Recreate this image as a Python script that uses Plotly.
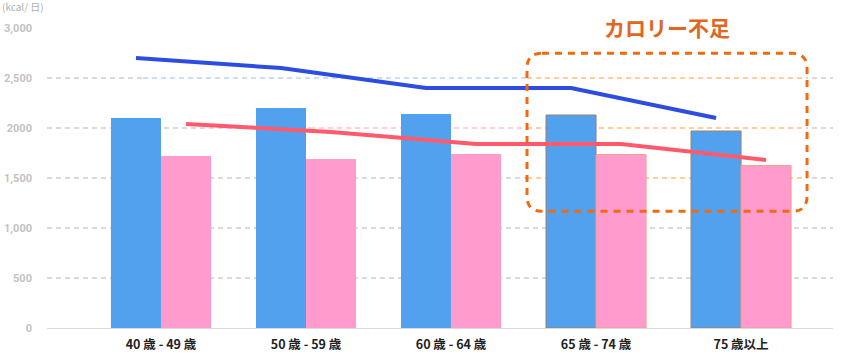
import plotly.graph_objects as go

categories = ["40 歳 - 49 歳", "50 歳 - 59 歳", "60 歳 - 64 歳", "65 歳 - 74 歳", "75 歳以上"]
male_intake = [2100, 2200, 2140, 2130, 1970]
female_intake = [1720, 1690, 1740, 1735, 1625]
male_required = [2700, 2600, 2400, 2400, 2100]
female_required = [2040, 1960, 1840, 1840, 1680]
y_tickvals = [0, 500, 1000, 1500, 2000, 2500, 3000]
y_ticktext = ["0", "500", "1,000", "1,500", "2000", "2,500", "3,000"]

BLUE_BAR = "#51a1ee"
PINK_BAR = "#ff9bcd"
BLUE_LINE = "#2d4ce0"
RED_LINE = "#ff5a6c"
ORANGE = "#f26a10"

xr = [-0.786, 4.634]
shift = 0.1724

fig = go.Figure()
edge = ["rgba(0,0,0,0)"] * 3 + ["#9c8070"] * 2
fig.add_trace(go.Bar(x=categories, y=male_intake, marker=dict(color=BLUE_BAR, line=dict(color=edge, width=1)), name="男性"))
fig.add_trace(go.Bar(x=categories, y=female_intake, marker=dict(color=PINK_BAR, line=dict(color=["rgba(0,0,0,0)"] * 3 + ["#f6a08a"] * 2, width=1)), name="女性"))
fig.add_trace(go.Scatter(x=categories, y=male_required, mode="lines", line=dict(color=BLUE_LINE, width=4), xaxis="x2"))
fig.add_trace(go.Scatter(x=categories, y=female_required, mode="lines", line=dict(color=RED_LINE, width=4), xaxis="x3"))

# decorative grid tints and dashed highlight box
bx0, bx1 = 2.524, 4.455
by0, by1 = 1167, 2747
rx, ry = 0.103, 150
shapes = []
def seg(x0, x1, y, color):
    shapes.append(dict(type="line", xref="x", yref="y", x0=x0, x1=x1, y0=y, y1=y,
                       line=dict(color="white", width=2), layer="between"))
    shapes.append(dict(type="line", xref="x", yref="y", x0=x0, x1=x1, y0=y, y1=y,
                       line=dict(color=color, width=1.5, dash="5px,4px"), layer="between"))
seg(-0.124, bx0, 2500, "#b9d4fb")
seg(1.028, bx0, 2000, "#ffc0c4")
for yv in [2500, 2000, 1500]:
    seg(bx0, bx1, yv, "#ffbe7a")

path = (f"M {bx0+rx},{by1} L {bx1-rx},{by1} Q {bx1},{by1} {bx1},{by1-ry} "
        f"L {bx1},{by0+ry} Q {bx1},{by0} {bx1-rx},{by0} L {bx0+rx},{by0} "
        f"Q {bx0},{by0} {bx0},{by0+ry} L {bx0},{by1-ry} Q {bx0},{by1} {bx0+rx},{by1} Z")
shapes.append(dict(type="path", xref="x", yref="y", path=path,
                   line=dict(color=ORANGE, width=3, dash="7px,6px"), layer="above"))

fig.update_layout(
    width=847, height=355,
    margin=dict(l=47, r=14, t=28, b=27),
    paper_bgcolor="white", plot_bgcolor="white",
    showlegend=False,
    barmode="group", bargap=0.31, bargroupgap=0,
    font=dict(family="Noto Sans CJK JP, Noto Sans, sans-serif"),
    xaxis=dict(type="category", range=xr, showgrid=False, showline=True, linecolor="#dcdcdc", linewidth=1,
               ticks="", ticklabelstandoff=5, automargin=False,
               tickfont=dict(family="Noto Sans CJK JP", size=12.5, color="#222222", weight="bold")),
    xaxis2=dict(type="category", overlaying="x", range=[xr[0] + shift, xr[1] + shift], visible=False),
    xaxis3=dict(type="category", overlaying="x", range=[xr[0] - shift, xr[1] - shift], visible=False),
    yaxis=dict(range=[0, 3000], tickvals=y_tickvals, ticktext=y_ticktext, showgrid=True,
               gridcolor="#dadada", griddash="5px,4px", gridwidth=1.5, zeroline=False, showline=False,
               ticks="", ticklabelstandoff=14, automargin=False,
               tickfont=dict(family="Roboto", size=11, color="#c2c2c2", weight="bold")),
    shapes=shapes,
    annotations=[
        dict(text="(kcal/ 日)", xref="paper", yref="paper", x=-47/786, y=(327.7 - 6.5) / 300,
             xanchor="left", yanchor="middle", showarrow=False,
             font=dict(family="Noto Sans CJK JP", size=10, color="#b0b0b0")),
        dict(text="カロリー不足", xref="x", yref="paper", x=3.491, y=(327.7 - 27) / 300,
             xanchor="center", yanchor="middle", showarrow=False,
             font=dict(family="Noto Sans CJK JP", size=21, color="#e0671f", weight="bold")),
    ],
)

fig.write_html("out.html", config={"displayModeBar": False},
               post_script="document.body.style.margin='0';document.body.style.overflow='hidden';")
